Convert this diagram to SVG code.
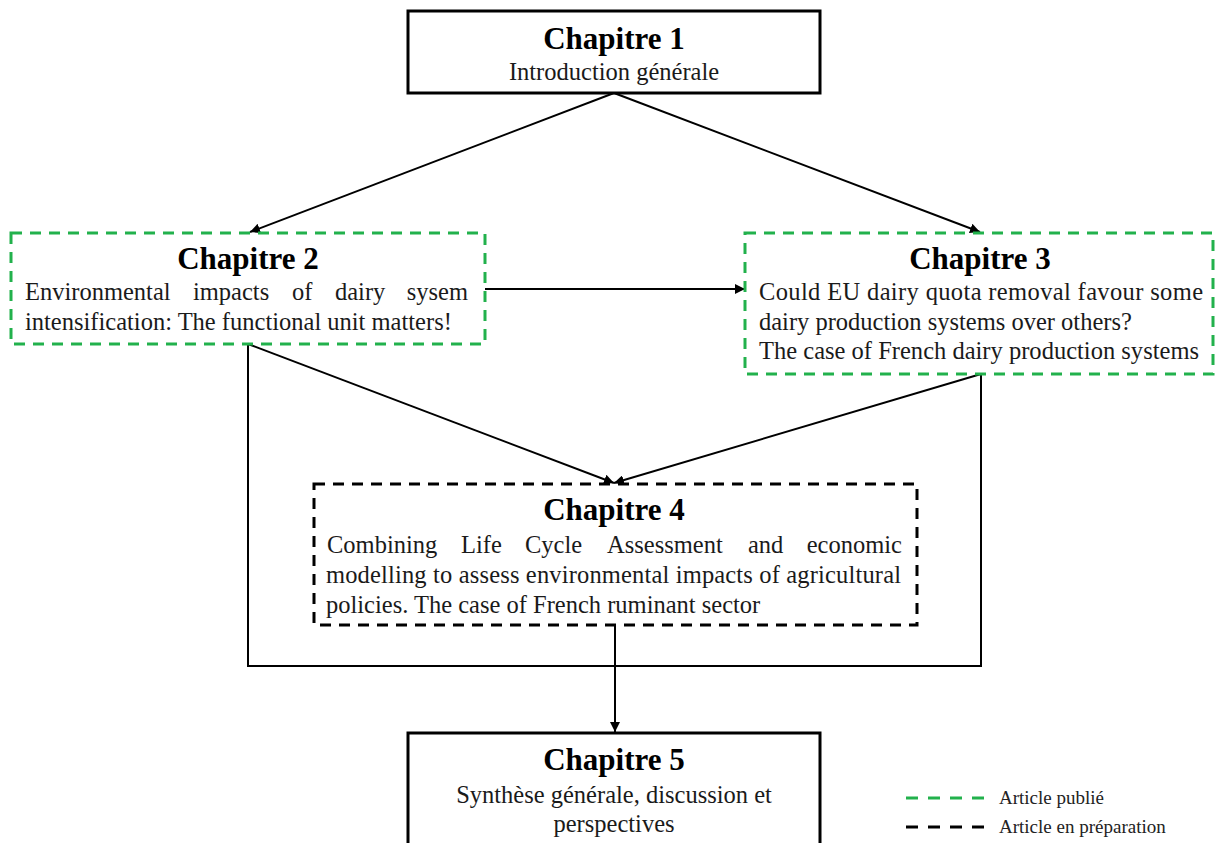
<svg xmlns="http://www.w3.org/2000/svg" width="1216" height="843" viewBox="0 0 1216 843">
<defs>
<marker id="ah" viewBox="0 0 10 10" refX="10" refY="5" markerWidth="10" markerHeight="10" markerUnits="userSpaceOnUse" orient="auto"><path d="M0,0 L10,5 L0,10 z" fill="#000"/></marker>
<style>
.solid{fill:#fff;stroke:#000;stroke-width:3}
.green{fill:#fff;stroke:#22b14c;stroke-width:3;stroke-dasharray:11 8}
.black{fill:#fff;stroke:#000;stroke-width:3;stroke-dasharray:11 8}
.t{font-family:"Liberation Serif","Times New Roman",serif;font-weight:bold;font-size:31px;fill:#000;text-anchor:middle}
.b{font-family:"Liberation Serif","Times New Roman",serif;font-size:24.5px;fill:#1a1a1a}
.c{text-anchor:middle}
.e{text-anchor:end}
.lg{font-family:"Liberation Serif","Times New Roman",serif;font-size:19px;fill:#222}
.conn{stroke:#000;stroke-width:2;fill:none}
</style>
</defs>
<rect width="1216" height="843" fill="#fff"/>
<g id="connectors">
<line class="conn" x1="614" y1="93" x2="250" y2="232" marker-end="url(#ah)"/>
<line class="conn" x1="614" y1="93" x2="980" y2="232" marker-end="url(#ah)"/>
<line class="conn" x1="485" y1="289" x2="745" y2="289" marker-end="url(#ah)"/>
<line class="conn" x1="248" y1="344" x2="614" y2="483" marker-end="url(#ah)"/>
<line class="conn" x1="981" y1="374" x2="614" y2="483" marker-end="url(#ah)"/>
<polyline class="conn" points="248,344 248,666 981,666 981,374"/>
<line class="conn" x1="615" y1="625" x2="615" y2="732" marker-end="url(#ah)"/>
</g>
<g id="ch1">
<rect class="solid" x="408" y="11" width="412" height="82"/>
<text class="t" x="614" y="49">Chapitre 1</text>
<text class="b c" x="614" y="80">Introduction générale</text>
</g>
<g id="ch2">
<rect class="green" x="11" y="233" width="474" height="111"/>
<text class="t" x="248" y="269">Chapitre 2</text>
<text class="b" y="300"><tspan x="25">Environmental</tspan><tspan x="193">impacts</tspan><tspan x="292">of</tspan><tspan x="335">dairy</tspan></text>
<text class="b e" x="468" y="300">sysem</text>
<text class="b" x="25" y="330">intensification: The functional unit matters!</text>
</g>
<g id="ch3">
<rect class="green" x="745" y="233" width="468" height="141"/>
<text class="t" x="980" y="269">Chapitre 3</text>
<text class="b" x="759" y="300" textLength="444" lengthAdjust="spacing">Could EU dairy quota removal favour some</text>
<text class="b" x="759" y="330">dairy production systems over others?</text>
<text class="b" x="759" y="359" textLength="440" lengthAdjust="spacing">The case of French dairy production systems</text>
</g>
<g id="ch4">
<rect class="black" x="314" y="484" width="603" height="141"/>
<text class="t" x="614" y="520">Chapitre 4</text>
<text class="b" y="553"><tspan x="327">Combining</tspan><tspan x="461">Life</tspan><tspan x="525">Cycle</tspan><tspan x="607">Assessment</tspan><tspan x="748">and</tspan></text>
<text class="b e" x="902" y="553">economic</text>
<text class="b" x="326" y="583" textLength="575" lengthAdjust="spacing">modelling to assess environmental impacts of agricultural</text>
<text class="b" x="326" y="613">policies. The case of French ruminant sector</text>
</g>
<g id="ch5">
<rect class="solid" x="408" y="733" width="412" height="130"/>
<text class="t" x="614" y="770">Chapitre 5</text>
<text class="b c" x="614" y="803">Synthèse générale, discussion et</text>
<text class="b c" x="614" y="832">perspectives</text>
</g>
<g id="legend">
<line x1="906" y1="798" x2="987" y2="798" stroke="#22b14c" stroke-width="3" stroke-dasharray="12 10"/>
<text class="lg" x="999" y="804">Article publié</text>
<line x1="906" y1="827" x2="987" y2="827" stroke="#000" stroke-width="3" stroke-dasharray="12 10"/>
<text class="lg" x="999" y="833">Article en préparation</text>
</g>
</svg>
